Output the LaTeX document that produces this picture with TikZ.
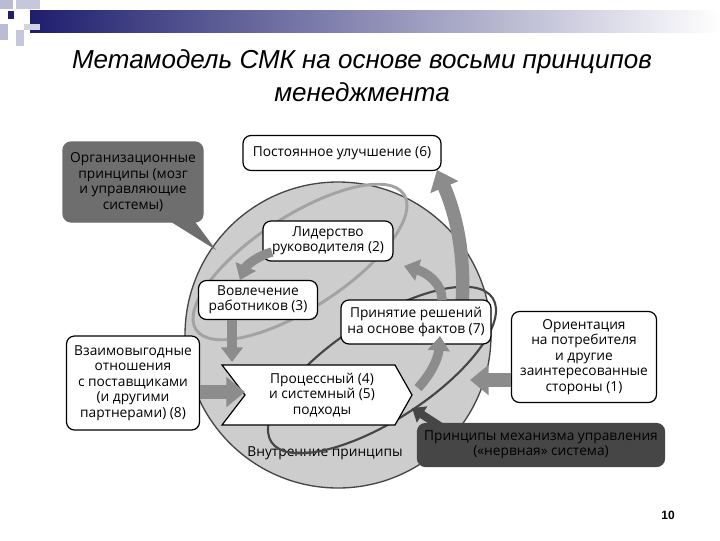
\documentclass[tikz,border=0pt]{standalone}
\usepackage{fontspec}
\setmainfont{Liberation Sans}
\newfontfamily\boxfont{Open Sans}
\usetikzlibrary{arrows.meta,shapes.symbols,shapes.geometric}
\definecolor{navy}{RGB}{30,30,110}
\definecolor{cfill}{RGB}{205,205,205}
\definecolor{arr}{RGB}{140,140,140}
\definecolor{darkbox}{RGB}{70,70,70}
\definecolor{midbox}{RGB}{110,110,110}
\tikzset{
 wbox/.style={draw=black,line width=0.9pt,rounded corners=6pt,fill=white,align=center,font=\boxfont\fontsize{10.3}{11.6}\selectfont,inner sep=2pt},
 garr/.style={draw=arr,line width=7pt,-{Triangle[length=11pt,width=16pt]}},
 bigarr/.style={draw=arr,line width=10pt,-{Triangle[length=14pt,width=22pt]}},
}
\begin{document}
\begin{tikzpicture}[x=0.75pt,y=-0.75pt]
\useasboundingbox (0,0) rectangle (720,540);
% header
\shade[left color=navy,right color=white] (30,10) rectangle (720,32);
\fill[navy!30] (0,0) rectangle (13,9);
\fill[navy!25] (16,0) rectangle (40,9);
\fill[navy!30] (0,24) rectangle (8,40);
\fill[navy!25] (16,30) rectangle (24,46);
\fill[navy!20] (24,24) rectangle (40,30);
\fill[navy] (8,11) rectangle (14,19);
\node[font=\itshape\fontsize{19.5}{25}\selectfont,align=center] (title) at (362,76) {Метамодель СМК на основе восьми принципов\\менеджмента};
% big circle
\node[circle,draw=darkbox,line width=1pt,fill=cfill,minimum size=306*0.75pt] (circ) at (338,335) {};
\node[font=\boxfont\fontsize{10.3}{11}\selectfont] (inner) at (325,453) {Внутренние принципы};
% ellipses
\draw[draw=arr!80,line width=2.2pt,rotate around={33:(300,262)}] (300,262) ellipse (124 and 46);
\draw[draw=darkbox,line width=1.6pt,rotate around={33:(382,370)}] (382,370) ellipse (132 and 50);
% big arrow behind nodes
\draw[bigarr] (462,305) .. controls (466,245) and (452,205) .. (437,170);
% nodes
\node[wbox,minimum width=198*0.75pt,minimum height=35*0.75pt] (n6) at (342,153) {Постоянное улучшение (6)};
\node[wbox,fill=midbox,draw=midbox,minimum width=140*0.75pt,minimum height=80*0.75pt,text=black] (org) at (133,182) {Организационные\\принципы (мозг\\и управляющие\\системы)};
\fill[midbox] (160,215) -- (190,215) -- (216,250) -- cycle;
\node[wbox,minimum width=130*0.75pt,minimum height=40*0.75pt] (n2) at (328,241) {Лидерство\\руководителя (2)};
\node[wbox,minimum width=119*0.75pt,minimum height=39*0.75pt] (n3) at (258,300) {Вовлечение\\работников (3)};
\node[wbox,minimum width=150*0.75pt,minimum height=44*0.75pt] (n7) at (416,322) {Принятие решений\\на основе фактов (7)};
\node[wbox,minimum width=145*0.75pt,minimum height=91*0.75pt] (n1) at (584,357) {Ориентация\\на потребителя\\и другие\\заинтересованные\\стороны (1)};
\node[wbox,minimum width=133*0.75pt,minimum height=94*0.75pt] (n8) at (133,383) {Взаимовыгодные\\отношения\\с поставщиками\\(и другими\\партнерами) (8)};
\node[wbox,fill=darkbox,draw=darkbox,minimum width=247*0.75pt,minimum height=43*0.75pt] (nerv) at (541,445) {Принципы механизма управления\\(«нервная» система)};
% process chevron
\draw[line width=0.9pt,fill=white] (222,365) -- (395,365) -- (412,395) -- (395,425) -- (222,425) -- (245,395) -- cycle;
\node[align=center,font=\boxfont\fontsize{10.3}{11.6}\selectfont] (n45) at (322,395) {Процессный (4)\\и системный (5)\\подходы};
\coordinate (p45l) at (245,392);
\coordinate (p45r) at (418,388);
% arrows
\draw[garr] (272,252) .. controls (257,256) and (246,266) .. (240,280);
\draw[garr] (232,320) -- (232,362);
\draw[bigarr] (n8.east |- 0,392) -- (p45l);
\draw[bigarr] (n1.west |- 0,380) -- (470,380);
\draw[garr] (p45r) .. controls (430,375) and (438,360) .. (440,336);
\draw[garr] (442,300) .. controls (442,282) and (425,272) .. (404,266);
\draw[draw=darkbox,line width=6pt,-{Triangle[length=9pt,width=14pt]}] (446,430) -- (412,408);
\node[font=\fontsize{9}{10}\selectfont\bfseries] (pg) at (668,515) {10};
\end{tikzpicture}
\end{document}
